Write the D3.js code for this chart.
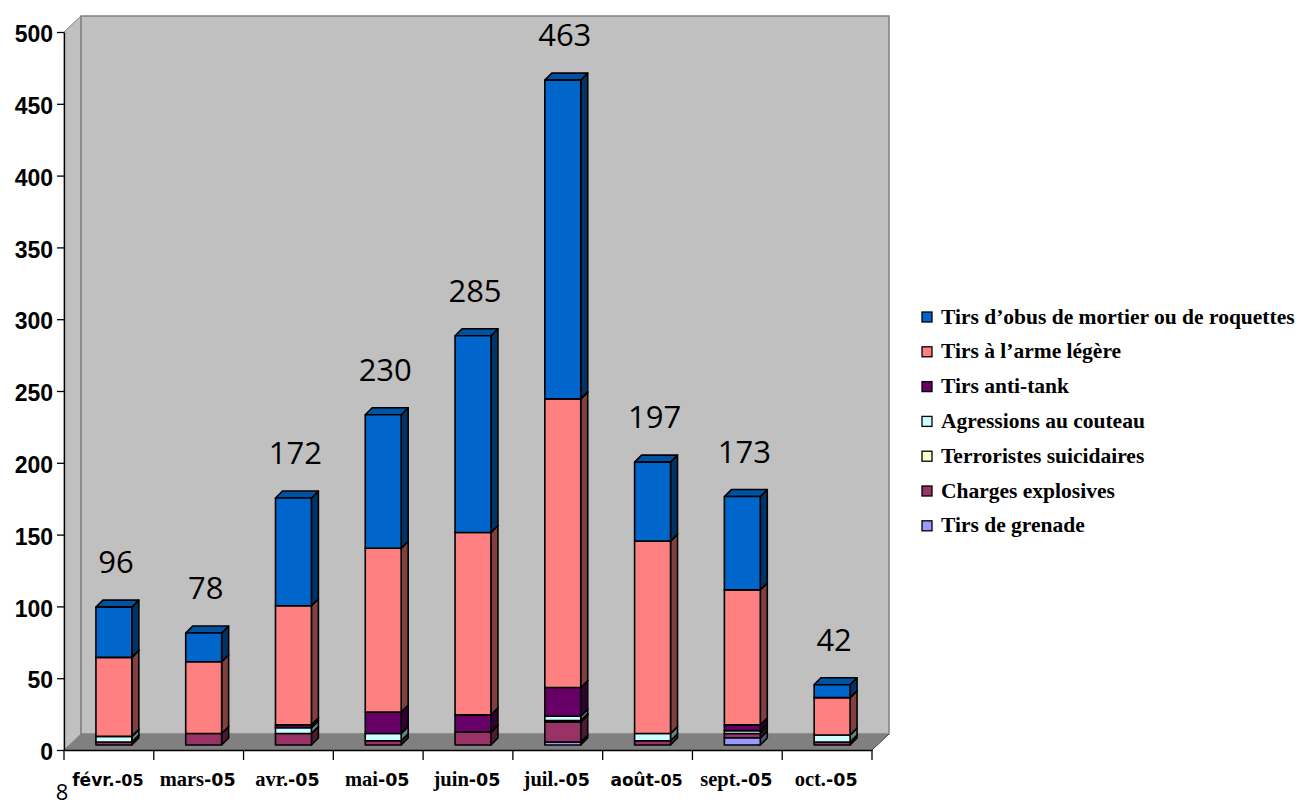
<!DOCTYPE html>
<html>
<head>
<meta charset="utf-8">
<script src="https://cdn.jsdelivr.net/npm/d3@7"></script>
<style>
  html, body { margin: 0; padding: 0; background: #ffffff; }
  svg { display: block; }
</style>
</head>
<body>
<svg id="chart" width="1303" height="807"></svg>
<script>
// Monthly incidents, 2005 — stacked by attack type (bottom to top)
const months = ["févr.-05", "mars-05", "avr.-05", "mai-05", "juin-05", "juil.-05", "août-05", "sept.-05", "oct.-05"];

const grenade     = [0, 0, 0, 0, 0, 2, 0, 5, 0];
const explosives  = [2, 8, 8, 3, 9, 14, 3, 3, 2];
const suicidaires = [0, 0, 0, 0, 0, 1, 0, 0, 0];
const couteau     = [4, 0, 4, 5, 0, 3, 5, 2, 5];
const antiTank    = [0, 0, 2, 15, 12, 20, 0, 4, 0];
const armeLegere  = [55, 50, 83, 114, 127, 201, 134, 94, 26];
const obus        = [35, 20, 75, 93, 137, 222, 55, 65, 9];

const seriesNames = [
  "Tirs de grenade",
  "Charges explosives",
  "Terroristes suicidaires",
  "Agressions au couteau",
  "Tirs anti-tank",
  "Tirs à l\u2019arme légère",
  "Tirs d\u2019obus de mortier ou de roquettes"
];
const seriesValues = [grenade, explosives, suicidaires, couteau, antiTank, armeLegere, obus];
const seriesColors = ["#9999FF", "#993366", "#FFFFCC", "#CCFFFF", "#660066", "#FF8080", "#0066CC"];

const yTicks = [0, 50, 100, 150, 200, 250, 300, 350, 400, 450, 500];
const sansMonths = ["févr.", "août"];

// ---- layout ----
const svg = d3.select("#chart");
const front = { left: 64, right: 872, bottom: 750, top: 32 };
const wallDx = 17, wallDy = -16;      // depth of the walls / floor
const barDx = 7, barDy = -7;          // depth of each column
const barShiftX = 5, barShiftY = -5;  // columns sit slightly behind the front edge

const x = d3.scaleBand().domain(months).range([front.left, front.right]).padding(0);
const y = d3.scaleLinear().domain([0, 500]).range([front.bottom, front.top]);

const wallFill = "#C0C0C0", wallLine = "#808080", floorFill = "#808080";

// left wall
svg.append("path")
  .attr("d", `M${front.left},${front.bottom} L${front.left},${front.top} L${front.left + wallDx},${front.top + wallDy} L${front.left + wallDx},${front.bottom + wallDy} Z`)
  .attr("fill", wallFill).attr("stroke", wallLine).attr("stroke-width", 1);

// back wall
svg.append("rect")
  .attr("x", front.left + wallDx).attr("y", front.top + wallDy)
  .attr("width", front.right - front.left).attr("height", front.bottom - front.top)
  .attr("fill", wallFill).attr("stroke", wallLine).attr("stroke-width", 1.5);

// floor
svg.append("path")
  .attr("d", `M${front.left},${front.bottom} L${front.right},${front.bottom} L${front.right + wallDx},${front.bottom + wallDy} L${front.left + wallDx},${front.bottom + wallDy} Z`)
  .attr("fill", floorFill).attr("stroke", "none");
svg.append("line")
  .attr("x1", front.right).attr("y1", front.bottom)
  .attr("x2", front.right + wallDx).attr("y2", front.bottom + wallDy)
  .attr("stroke", "#404040").attr("stroke-width", 1);

// stacked columns
const stackData = months.map((m, i) => {
  const row = { month: m };
  seriesNames.forEach((n, s) => { row[n] = seriesValues[s][i]; });
  return row;
});
const stacked = d3.stack().keys(seriesNames)(stackData);

const barW = x.bandwidth() * 0.4;
const barX = m => x(m) + (x.bandwidth() - barW) / 2 + barShiftX;
const barY = v => y(v) + barShiftY;

function shade(c, k) {
  const r = d3.rgb(c);
  return d3.rgb(r.r * k, r.g * k, r.b * k).formatHex();
}

const gBars = svg.append("g");
months.forEach((m, i) => {
  stacked.forEach((layer, s) => {
    const d = layer[i];
    if (d[1] - d[0] <= 0) return;
    const x0 = barX(m), x1 = x0 + barW;
    const yb = barY(d[0]), yt = barY(d[1]);
    const col = seriesColors[s];
    const g = gBars.append("g")
      .attr("stroke", "#000").attr("stroke-width", 1.6).attr("stroke-linejoin", "round");
    // side face
    g.append("path")
      .attr("d", `M${x1},${yb} L${x1 + barDx},${yb + barDy} L${x1 + barDx},${yt + barDy} L${x1},${yt} Z`)
      .attr("fill", shade(col, 0.5));
    // top face
    g.append("path")
      .attr("d", `M${x0},${yt} L${x0 + barDx},${yt + barDy} L${x1 + barDx},${yt + barDy} L${x1},${yt} Z`)
      .attr("fill", shade(col, 0.8));
    // front face
    g.append("rect")
      .attr("x", x0).attr("y", yt).attr("width", barW).attr("height", yb - yt)
      .attr("fill", col);
  });
});

// totals above columns
const totals = months.map((m, i) => d3.sum(seriesValues, sv => sv[i]));
svg.append("g").selectAll("text").data(months).join("text")
  .attr("x", m => barX(m) + barW / 2 + 2)
  .attr("y", (m, i) => barY(totals[i]) - 34)
  .attr("text-anchor", "middle")
  .attr("font-family", "'Open Sans', 'DejaVu Sans', sans-serif")
  .attr("font-size", 31)
  .attr("fill", "#000")
  .text((m, i) => totals[i]);

// y axis
const yAxis = d3.axisLeft(y).tickValues(yTicks).tickSize(7).tickPadding(4).tickSizeOuter(0);
const gy = svg.append("g").attr("transform", `translate(${front.left},0)`).call(yAxis);
gy.select(".domain").attr("stroke", "#000").attr("stroke-width", 1.3);
gy.selectAll(".tick line").attr("stroke", "#000").attr("stroke-width", 1.3);
gy.selectAll(".tick text")
  .attr("font-family", "'Liberation Sans', Arial, sans-serif")
  .attr("font-weight", "bold")
  .attr("font-size", 23)
  .attr("dy", "0.42em")
  .attr("fill", "#000");

// x axis
const xAxis = d3.axisBottom(x).tickSize(0).tickFormat("");
const gx = svg.append("g").attr("transform", `translate(0,${front.bottom})`).call(xAxis);
gx.select(".domain").attr("stroke", "#000").attr("stroke-width", 1.3);
const boundaries = months.map(m => x(m)).concat([front.right]);
svg.append("g").selectAll("line").data(boundaries).join("line")
  .attr("x1", d => d).attr("x2", d => d)
  .attr("y1", front.bottom).attr("y2", front.bottom + 10)
  .attr("stroke", "#000").attr("stroke-width", 1.3);

const xl = svg.append("g").selectAll("text").data(months).join("text")
  .attr("x", m => x(m) + x.bandwidth() / 2 - 1)
  .attr("y", 786)
  .attr("text-anchor", "middle")
  .attr("font-weight", "bold")
  .attr("fill", "#000");
xl.each(function (m) {
  const cut = m.lastIndexOf("-");
  const head = m.slice(0, cut), tail = m.slice(cut);
  const t = d3.select(this);
  const sans = sansMonths.includes(head);
  t.append("tspan")
    .attr("font-family", sans ? "'DejaVu Sans', Verdana, sans-serif" : "'Liberation Serif', 'Times New Roman', serif")
    .attr("font-size", sans ? 17 : 20.5)
    .text(head);
  t.append("tspan")
    .attr("font-family", "'DejaVu Sans', Verdana, sans-serif")
    .attr("font-size", sans ? 16 : 17.5)
    .text(tail);
});

// stray label at the lower left
svg.append("text")
  .attr("x", 62).attr("y", 800)
  .attr("text-anchor", "middle")
  .attr("font-family", "'Open Sans', 'DejaVu Sans', sans-serif")
  .attr("font-size", 22)
  .text("8");

// legend (top of stack first)
const legendOrder = d3.range(seriesNames.length).reverse();
const lg = svg.append("g").attr("transform", "translate(922,317)");
const items = lg.selectAll("g").data(legendOrder).join("g")
  .attr("transform", (s, k) => `translate(0,${k * 34.8})`);
items.append("rect")
  .attr("x", 0).attr("y", -5).attr("width", 10).attr("height", 10)
  .attr("fill", s => seriesColors[s]).attr("stroke", "#000").attr("stroke-width", 1.3);
items.append("text")
  .attr("x", 19).attr("y", 6.5)
  .attr("font-family", "'Liberation Serif', 'Times New Roman', serif")
  .attr("font-weight", "bold")
  .attr("font-size", 21.5)
  .attr("fill", "#000")
  .text(s => seriesNames[s]);
</script>
</body>
</html>
